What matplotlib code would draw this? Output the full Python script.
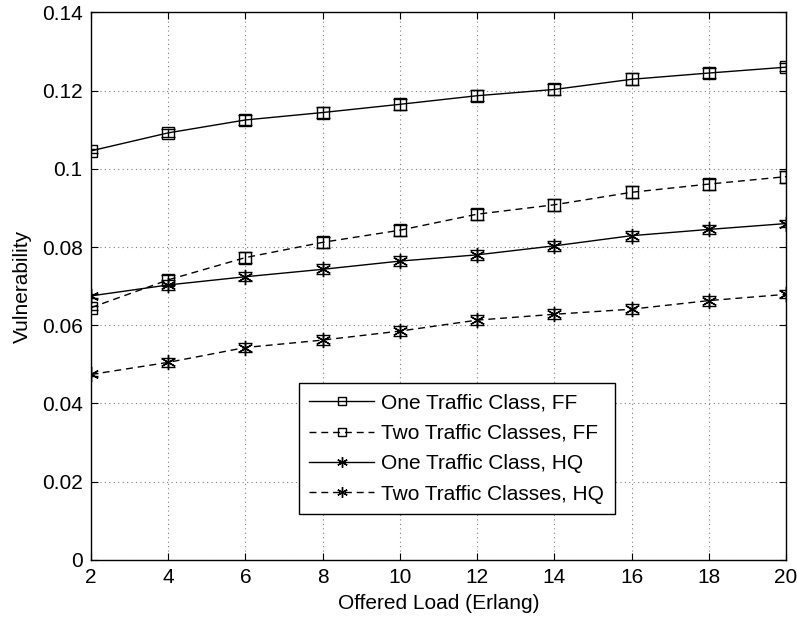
import matplotlib
matplotlib.use("Agg")
import matplotlib.pyplot as plt

plt.rcParams['font.family'] = ['Liberation Sans', 'DejaVu Sans']

# Offered load (Erlang)
load = [2, 4, 6, 8, 10, 12, 14, 16, 18, 20]

# Vulnerability per scenario
one_ff = [0.1046, 0.1092, 0.1125, 0.1144, 0.1165, 0.1187, 0.1203, 0.1229, 0.1245, 0.1260]
two_ff = [0.0645, 0.0716, 0.0773, 0.0812, 0.0843, 0.0884, 0.0908, 0.0940, 0.0961, 0.0980]
one_hq = [0.0675, 0.0703, 0.0724, 0.0743, 0.0764, 0.0780, 0.0803, 0.0829, 0.0845, 0.0860]
two_hq = [0.0474, 0.0505, 0.0543, 0.0562, 0.0585, 0.0613, 0.0628, 0.0641, 0.0663, 0.0679]

# Confidence interval half-widths
err_one_ff = [0.0005, 0.0010, 0.0012, 0.0014, 0.0014, 0.0014, 0.0014, 0.0015, 0.0012, 0.0010]
err_two_ff = [0.0005, 0.0012, 0.0013, 0.0014, 0.0014, 0.0014, 0.0015, 0.0015, 0.0014, 0.0015]
err_one_hq = [0.0005, 0.0012, 0.0012, 0.0013, 0.0013, 0.0013, 0.0013, 0.0013, 0.0012, 0.0008]
err_two_hq = [0.0005, 0.0012, 0.0012, 0.0012, 0.0012, 0.0013, 0.0013, 0.0013, 0.0013, 0.0010]

labels = ["One Traffic Class, FF", "Two Traffic Classes, FF",
          "One Traffic Class, HQ", "Two Traffic Classes, HQ"]

FS = 15

fig = plt.figure(figsize=(7.97, 6.22), dpi=100)
ax = fig.add_axes([0.1142, 0.1, 0.8720, 0.880])

asterisk = (6, 2, 0)
series = [
    (one_ff, err_one_ff, 's', '-', 8.5),
    (two_ff, err_two_ff, 's', (0, (5, 3.5)), 8.5),
    (one_hq, err_one_hq, asterisk, '-', 11),
    (two_hq, err_two_hq, asterisk, (0, (5, 3.5)), 11),
]

handles = []
for (vals, err, mk, ls, ms), lab in zip(series, labels):
    ax.errorbar(load, vals, yerr=err, fmt='none', ecolor='black',
                elinewidth=1.0, capsize=5, capthick=1.0, zorder=3)
    h, = ax.plot(load, vals, color='black', linestyle=ls, linewidth=1.0,
                 marker=mk, markersize=ms, markerfacecolor='none',
                 markeredgecolor='black', markeredgewidth=1.0, label=lab,
                 zorder=4)
    handles.append(h)

ax.set_xlim(2, 20)
ax.set_ylim(0, 0.14)
ax.set_xticks(load)
ax.set_yticks([0, 0.02, 0.04, 0.06, 0.08, 0.1, 0.12, 0.14])
ax.set_yticklabels(['0', '0.02', '0.04', '0.06', '0.08', '0.1', '0.12', '0.14'])

ax.grid(True, color='#808080', linestyle=(0, (1, 3)), linewidth=0.8)
ax.tick_params(direction='in', length=5, width=0.8, top=True, right=True,
               labelsize=FS, pad=6, colors='black')
for sp in ax.spines.values():
    sp.set_linewidth(1.0)

ax.set_xlabel("Offered Load (Erlang)", fontsize=FS, labelpad=5)
ax.set_ylabel("Vulnerability", fontsize=FS, labelpad=7)

leg = ax.legend(handles=handles, loc='upper left',
                bbox_to_anchor=(299 / 797, 1 - 383 / 622),
                bbox_transform=fig.transFigure,
                fontsize=FS, frameon=True, fancybox=False, framealpha=1,
                edgecolor='black', handlelength=3.1, handletextpad=0.35,
                borderpad=0.5, labelspacing=0.55, borderaxespad=0,
                markerscale=0.7)
leg.get_frame().set_linewidth(1.0)

fig.savefig("out.png", dpi=100, facecolor='white')
